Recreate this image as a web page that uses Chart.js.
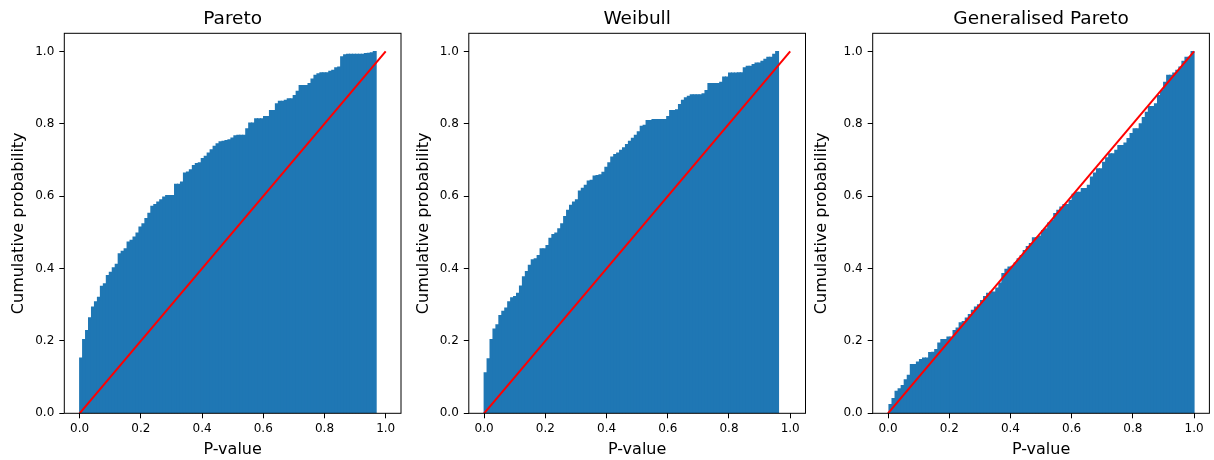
<!DOCTYPE html>
<html>
<head>
<meta charset="utf-8">
<script src="https://cdn.jsdelivr.net/npm/chart.js@4.4.0/dist/chart.umd.min.js"></script>
<style>
    body { margin: 0; background: #fff; width: 1214px; height: 460px; position: relative; overflow: hidden; }
    canvas { position: absolute; top: 0; }
</style>
</head>
<body>
<canvas id="pareto_chart" width="404" height="460" style="left:0px"></canvas>
<canvas id="weibull_chart" width="404" height="460" style="left:404px"></canvas>
<canvas id="gpd_chart" width="406" height="460" style="left:808px"></canvas>
<script>
// cumulative histogram heights (100 bins each)
const paretoCdf = [
    0.153, 0.204, 0.229, 0.264, 0.294, 0.308, 0.321, 0.351, 0.358, 0.381,
    0.390, 0.402, 0.412, 0.441, 0.448, 0.455, 0.473, 0.478, 0.487, 0.498,
    0.515, 0.524, 0.538, 0.553, 0.572, 0.577, 0.584, 0.590, 0.598, 0.602,
    0.602, 0.602, 0.633, 0.633, 0.639, 0.664, 0.667, 0.673, 0.685, 0.690,
    0.692, 0.704, 0.710, 0.719, 0.728, 0.738, 0.745, 0.750, 0.752, 0.754,
    0.756, 0.761, 0.767, 0.768, 0.768, 0.768, 0.786, 0.802, 0.802, 0.814,
    0.814, 0.814, 0.820, 0.820, 0.837, 0.837, 0.855, 0.862, 0.862, 0.865,
    0.869, 0.869, 0.878, 0.890, 0.906, 0.906, 0.906, 0.911, 0.924, 0.934,
    0.938, 0.941, 0.941, 0.941, 0.945, 0.948, 0.955, 0.957, 0.985, 0.991,
    0.992, 0.992, 0.992, 0.992, 0.992, 0.992, 0.994, 0.995, 0.996, 1.000
];
const weibullCdf = [
    0.112, 0.151, 0.204, 0.233, 0.245, 0.270, 0.282, 0.291, 0.308, 0.319,
    0.323, 0.332, 0.352, 0.377, 0.392, 0.409, 0.424, 0.427, 0.436, 0.455,
    0.455, 0.464, 0.484, 0.494, 0.498, 0.510, 0.524, 0.544, 0.561, 0.575,
    0.584, 0.590, 0.614, 0.622, 0.630, 0.642, 0.644, 0.656, 0.657, 0.659,
    0.666, 0.680, 0.692, 0.708, 0.715, 0.719, 0.727, 0.734, 0.743, 0.752,
    0.760, 0.768, 0.778, 0.793, 0.796, 0.809, 0.809, 0.812, 0.812, 0.812,
    0.812, 0.812, 0.820, 0.837, 0.837, 0.839, 0.853, 0.865, 0.872, 0.876,
    0.880, 0.880, 0.880, 0.880, 0.883, 0.892, 0.911, 0.911, 0.911, 0.911,
    0.915, 0.929, 0.929, 0.940, 0.940, 0.940, 0.941, 0.941, 0.955, 0.959,
    0.959, 0.964, 0.968, 0.968, 0.973, 0.978, 0.984, 0.984, 0.992, 1.000
];
const gpdCdf = [
    0.024, 0.041, 0.061, 0.068, 0.077, 0.093, 0.105, 0.135, 0.135, 0.142,
    0.149, 0.153, 0.153, 0.168, 0.169, 0.176, 0.194, 0.204, 0.204, 0.211,
    0.211, 0.229, 0.236, 0.250, 0.254, 0.263, 0.273, 0.285, 0.294, 0.300,
    0.312, 0.323, 0.332, 0.335, 0.335, 0.346, 0.360, 0.386, 0.398, 0.404,
    0.406, 0.415, 0.427, 0.436, 0.450, 0.461, 0.469, 0.485, 0.485, 0.490,
    0.505, 0.510, 0.526, 0.533, 0.552, 0.561, 0.570, 0.577, 0.577, 0.588,
    0.605, 0.611, 0.611, 0.621, 0.621, 0.630, 0.653, 0.664, 0.676, 0.676,
    0.694, 0.706, 0.717, 0.717, 0.727, 0.740, 0.740, 0.747, 0.759, 0.773,
    0.786, 0.786, 0.800, 0.817, 0.832, 0.848, 0.848, 0.855, 0.878, 0.892,
    0.915, 0.934, 0.934, 0.940, 0.948, 0.957, 0.973, 0.984, 0.984, 1.000
];

// smallest and largest p-value of each sample (the histogram bins span this range)
const paretoRange = [0.0, 0.969];
const weibullRange = [0.0, 0.962];
const gpdRange = [0.003, 1.0];

// reference line y = x
const refLineX = [0, 1];
const refLineY = [0, 1];

const tickValues = [0, 0.2, 0.4, 0.6, 0.8, 1.0];
const titles = ["Pareto", "Weibull", "Generalised Pareto"];
const xLabel = "P-value";
const yLabel = "Cumulative probability";

Chart.defaults.font.family = "'DejaVu Sans', sans-serif";
Chart.defaults.color = "#000";

// matplotlib style box around the plot area
const spines = {
    id: "spines",
    afterDatasetsDraw(chart) {
        const a = chart.chartArea;
        const ctx = chart.ctx;
        ctx.save();
        ctx.strokeStyle = "#000";
        ctx.lineWidth = 1;
        ctx.strokeRect(a.left, a.top, a.right - a.left, a.bottom - a.top);
        ctx.restore();
    },
};

function setTicks(scale) {
    scale.ticks = tickValues.map((v) => ({ value: v }));
}

function makeChart(canvasId, title, cdf, range, yWidth, yTitlePad, rightPad) {
    const n = cdf.length;
    const binW = (range[1] - range[0]) / n;
    const bars = cdf.map((v, i) => ({ x: range[0] + (i + 0.5) * binW, y: v }));
    const line = refLineX.map((x, i) => ({ x: x, y: refLineY[i] }));

    return new Chart(document.getElementById(canvasId), {
        type: "bar",
        data: {
            datasets: [
                {
                    type: "line",
                    data: line,
                    borderColor: "#ff0000",
                    borderWidth: 2,
                    pointRadius: 0,
                    fill: false,
                    order: 0,
                },
                {
                    type: "bar",
                    data: bars,
                    backgroundColor: "#1f77b4",
                    borderWidth: 0,
                    barPercentage: 1,
                    categoryPercentage: 1,
                    inflateAmount: 0.5, // hide seams between neighbour bins
                    order: 1,
                },
            ],
        },
        options: {
            responsive: false,
            animation: false,
            devicePixelRatio: 1,
            layout: { padding: { left: 0, right: rightPad, top: 0, bottom: 0 } },
            plugins: { legend: { display: false }, tooltip: { enabled: false } },
            scales: {
                x: {
                    type: "linear",
                    position: "bottom",
                    min: -0.05,
                    max: 1.05,
                    offset: false,
                    grid: { offset: false, drawOnChartArea: false, color: "#000", tickLength: 5 },
                    border: { display: false },
                    afterBuildTicks: setTicks,
                    afterFit: (s) => { s.height = 46.7; },
                    ticks: {
                        padding: 3.5,
                        maxRotation: 0,
                        autoSkip: false,
                        font: { size: 12 },
                        callback: (v) => Number(v).toFixed(1),
                    },
                    title: { display: true, text: xLabel, font: { size: 16 }, padding: { top: 0, bottom: 0.4 } },
                },
                xTitle: {
                    type: "linear",
                    position: "top",
                    min: 0,
                    max: 1,
                    ticks: { display: false },
                    grid: { display: false },
                    border: { display: false },
                    afterFit: (s) => { s.height = 33.3; },
                    title: { display: true, text: title, font: { size: 18.5 }, padding: { top: 8.2, bottom: 2.9 } },
                },
                y: {
                    type: "linear",
                    position: "left",
                    min: 0,
                    max: 1.05,
                    grid: { drawOnChartArea: false, color: "#000", tickLength: 5 },
                    border: { display: false },
                    afterBuildTicks: setTicks,
                    afterFit: (s) => { s.width = yWidth; },
                    ticks: {
                        padding: 5,
                        font: { size: 12 },
                        callback: (v) => Number(v).toFixed(1),
                    },
                    title: { display: true, text: yLabel, font: { size: 16 }, padding: { top: yTitlePad, bottom: 0 } },
                },
            },
        },
        plugins: [spines],
    });
}

makeChart("pareto_chart", titles[0], paretoCdf, paretoRange, 64.3, 9.1, 3);
makeChart("weibull_chart", titles[1], weibullCdf, weibullRange, 64.8, 10.4, 2.5);
makeChart("gpd_chart", titles[2], gpdCdf, gpdRange, 64.7, 4.1, 4.6);
</script>
</body>
</html>
